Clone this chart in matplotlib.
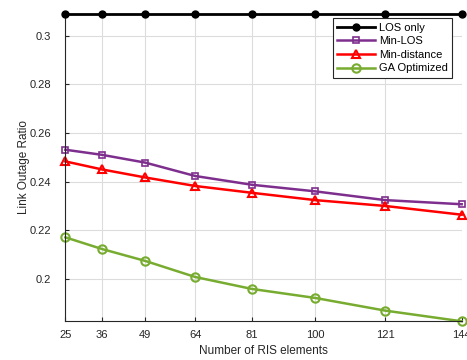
import numpy as np
import matplotlib
matplotlib.use('Agg')
from matplotlib import pyplot as plt

plt.rcParams['font.family'] = ['Liberation Sans', 'DejaVu Sans']

# RIS element counts
n_elems = [25, 36, 49, 64, 81, 100, 121, 144]

# Link outage ratio for each scheme
los_only = [0.309, 0.309, 0.309, 0.309, 0.309, 0.309, 0.309, 0.309]
min_los = [0.2531, 0.2510, 0.2478, 0.2423, 0.2387, 0.2360, 0.2324, 0.2307]
min_dist = [0.2483, 0.2450, 0.2417, 0.2382, 0.2354, 0.2324, 0.2300, 0.2264]
ga_opt = [0.2171, 0.2123, 0.2074, 0.2008, 0.1959, 0.1922, 0.1870, 0.1826]

fig = plt.figure(figsize=(4.67, 3.6), dpi=100)
ax = fig.add_axes([0.14, 0.1075, 0.8486, 0.8545])

ax.plot(n_elems, los_only, '-o', color='black', lw=2, ms=5, mfc='black',
        label='LOS only', clip_on=False, zorder=5)
ax.plot(n_elems, min_los, '-s', color='#7E2F8E', lw=1.8, ms=5, mfc='none',
        mew=1.2, label='Min-LOS', clip_on=False)
ax.plot(n_elems, min_dist, '-^', color='#FF0000', lw=1.8, ms=6, mfc='none',
        mew=1.5, label='Min-distance', clip_on=False)
ax.plot(n_elems, ga_opt, '-o', color='#77AC30', lw=1.8, ms=6, mfc='none',
        mew=1.5, label='GA Optimized', clip_on=False)

ax.set_xlim(25, 144)
ax.set_ylim(min(ga_opt), max(los_only))
ax.set_xticks(n_elems)
ax.set_yticks([0.2, 0.22, 0.24, 0.26, 0.28, 0.3])
ax.set_yticklabels(['0.2', '0.22', '0.24', '0.26', '0.28', '0.3'])

ax.grid(True, color='#dcdcdc', lw=0.8)
ax.set_axisbelow(True)
for side in ['top', 'right']:
    ax.spines[side].set_visible(False)
for side in ['left', 'bottom']:
    ax.spines[side].set_color('#262626')
    ax.spines[side].set_linewidth(0.8)
ax.tick_params(direction='in', length=3, labelsize=8, colors='#262626')
ax.tick_params(axis='y', pad=10)
ax.tick_params(axis='x', pad=6)

ax.set_xlabel('Number of RIS elements', fontsize=8.5, color='#262626', labelpad=4)
ax.set_ylabel('Link Outage Ratio', fontsize=8.5, color='#262626', labelpad=0)

leg = ax.legend(loc='upper right', bbox_to_anchor=(0.9755, 0.985), fontsize=8,
                fancybox=False, framealpha=1, edgecolor='#262626',
                borderpad=0.4, labelspacing=0.32, handlelength=3.4,
                handletextpad=0.35, borderaxespad=0)
leg.get_frame().set_linewidth(0.8)

plt.savefig('out.png', dpi=100)
